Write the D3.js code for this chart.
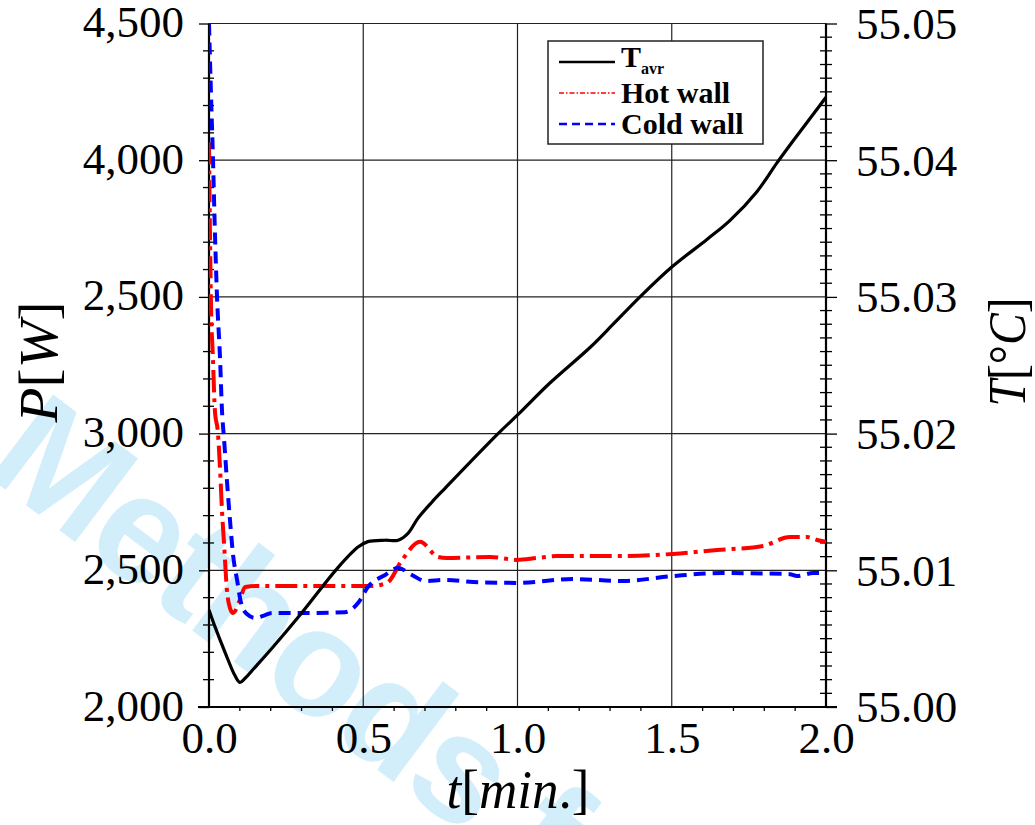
<!DOCTYPE html>
<html><head><meta charset="utf-8">
<script src="https://cdn.jsdelivr.net/npm/d3@7"></script>
<style>body{margin:0;background:#fff}</style>
</head><body><svg id="c" width="1035" height="825"></svg>
<script>
// ---- data ----
const timeAvr = [0, 0.019, 0.052, 0.084, 0.100, 0.117, 0.149, 0.204, 0.301, 0.418, 0.483, 0.515, 0.571, 0.613, 0.645, 0.677, 0.723, 0.765, 0.937, 1.002, 1.105, 1.235, 1.310, 1.397, 1.501, 1.614, 1.689, 1.776, 1.841, 1.893, 2.0];
const tempAvr = [55.0071, 55.0059, 55.0040, 55.0023, 55.0018, 55.0021, 55.0029, 55.0043, 55.0069, 55.0102, 55.0117, 55.0121, 55.0122, 55.0122, 55.0127, 55.0138, 55.0150, 55.0160, 55.0200, 55.0214, 55.0237, 55.0263, 55.0280, 55.0300, 55.0322, 55.0342, 55.0356, 55.0377, 55.0398, 55.0414, 55.0446];

const timeHot = [0, 0.003, 0.006, 0.013, 0.019, 0.029, 0.036, 0.042, 0.049, 0.058, 0.068, 0.078, 0.100, 0.117, 0.165, 0.295, 0.528, 0.577, 0.626, 0.684, 0.742, 0.771, 0.911, 0.998, 1.063, 1.128, 1.342, 1.504, 1.647, 1.796, 1.883, 1.939, 1.971, 2.0];
const powerHot = [4066, 3745, 3500, 3269, 3086, 3002, 2867, 2721, 2593, 2428, 2362, 2344, 2391, 2439, 2443, 2443, 2443, 2454, 2538, 2604, 2549, 2545, 2549, 2538, 2545, 2552, 2552, 2560, 2574, 2589, 2622, 2622, 2611, 2604];

const timeCold = [0, 0.006, 0.013, 0.019, 0.026, 0.036, 0.042, 0.049, 0.058, 0.068, 0.078, 0.091, 0.104, 0.123, 0.149, 0.182, 0.204, 0.311, 0.441, 0.483, 0.515, 0.571, 0.613, 0.658, 0.700, 0.765, 0.856, 0.998, 1.180, 1.342, 1.504, 1.666, 1.883, 1.906, 1.958, 2.0];
const powerCold = [4500, 4257, 4001, 3745, 3500, 3269, 3086, 2977, 2830, 2684, 2556, 2465, 2380, 2340, 2326, 2336, 2344, 2344, 2347, 2380, 2439, 2483, 2508, 2483, 2461, 2465, 2457, 2454, 2468, 2461, 2479, 2490, 2486, 2479, 2490, 2490];

const xTickValues = [0, 0.5, 1.0, 1.5, 2.0];
const xTickLabels = ["0.0", "0.5", "1.0", "1.5", "2.0"];
const pTickValues = [2000, 2500, 3000, 3500, 4000, 4500];
const pTickLabels = ["2,000", "2,500", "3,000", "2,500", "4,000", "4,500"];
const tTickValues = [55.00, 55.01, 55.02, 55.03, 55.04, 55.05];
const tTickLabels = ["55.00", "55.01", "55.02", "55.03", "55.04", "55.05"];
const seriesNames = ["T", "Hot wall", "Cold wall"];
const watermarkText = "Methods for";

// ---- layout ----
const svg = d3.select("#c");
const L = 209, R = 826, T = 23.5, B = 707;
const serif = "'Liberation Serif','Times New Roman',serif";
const x = d3.scaleLinear().domain([0, 2]).range([L, R]);
const yP = d3.scaleLinear().domain([2000, 4500]).range([B, T]);
const yT = d3.scaleLinear().domain([55.00, 55.05]).range([B, T]);

svg.append("rect").attr("width", 1035).attr("height", 825).attr("fill", "#fff");

// watermark (clipped to the page)
svg.append("clipPath").attr("id", "page").append("rect").attr("width", 1035).attr("height", 825);
svg.append("g").attr("clip-path", "url(#page)").append("text")
  .attr("transform", "translate(-18,472) rotate(37)")
  .attr("font-family", "'Liberation Sans',Arial,sans-serif")
  .attr("font-weight", "bold").attr("font-size", 152).attr("letter-spacing", -3)
  .attr("fill", "#d3eefb").text(watermarkText);

// grid
const grid = svg.append("g").attr("stroke", "#222").attr("stroke-width", 1.2);
grid.selectAll(".gh").data(pTickValues).join("line")
  .attr("x1", L).attr("x2", R).attr("y1", d => yP(d)).attr("y2", d => yP(d));
grid.selectAll(".gv").data(xTickValues.slice(1, -1)).join("line")
  .attr("y1", T).attr("y2", B).attr("x1", d => x(d)).attr("x2", d => x(d));

// minor ticks
const minorP = d3.range(2000, 4501, 100).filter(v => v % 500 !== 0);
const minorT = d3.range(0, 51).map(i => 55 + i * 0.001).filter((v, i) => i % 10 !== 0);
const minorX = d3.range(0, 21).map(i => i * 0.1).filter((v, i) => i % 5 !== 0);
const mt = svg.append("g").attr("stroke", "#000").attr("stroke-width", 1.3);
mt.selectAll(".ml").data(minorP).join("line")
  .attr("x1", L - 6).attr("x2", L + 5).attr("y1", d => yP(d)).attr("y2", d => yP(d));
mt.selectAll(".mr").data(minorT).join("line")
  .attr("x1", R - 6).attr("x2", R + 6).attr("y1", d => yT(d)).attr("y2", d => yT(d));
mt.selectAll(".mb").data(minorX).join("line")
  .attr("y1", B).attr("y2", B + 4).attr("x1", d => x(d)).attr("x2", d => x(d));

// axes
const axL = svg.append("g").attr("transform", `translate(${L},0)`)
  .call(d3.axisLeft(yP).tickValues(pTickValues).tickFormat((d, i) => pTickLabels[i]).tickSize(10).tickSizeOuter(0).tickPadding(15));
const axR = svg.append("g").attr("transform", `translate(${R},0)`)
  .call(d3.axisRight(yT).tickValues(tTickValues).tickFormat((d, i) => tTickLabels[i]).tickSize(11).tickSizeOuter(0).tickPadding(19));
const axB = svg.append("g").attr("transform", `translate(0,${B})`)
  .call(d3.axisBottom(x).tickValues(xTickValues).tickFormat((d, i) => xTickLabels[i]).tickSize(0).tickSizeOuter(0).tickPadding(14));
[axL, axR, axB].forEach(a => {
  a.select(".domain").remove();
  a.selectAll(".tick line").attr("stroke", "#000").attr("stroke-width", 1.3);
  a.selectAll("text").attr("font-family", serif).attr("font-size", 45).attr("fill", "#000");
});
axL.selectAll("text").attr("dy", "0.29em");
axR.selectAll("text").attr("dy", "0.33em");

const frame = svg.append("g").attr("stroke", "#000").attr("stroke-width", 2.2);
frame.append("line").attr("x1", L).attr("x2", L).attr("y1", T).attr("y2", B);
frame.append("line").attr("x1", R).attr("x2", R).attr("y1", T).attr("y2", B);
frame.append("line").attr("x1", L - 11).attr("x2", R + 11).attr("y1", B).attr("y2", B);

// series
svg.append("clipPath").attr("id", "clip").append("rect")
  .attr("x", L).attr("y", T - 2).attr("width", R - L).attr("height", B - T + 2);
const plot = svg.append("g").attr("clip-path", "url(#clip)");
const lineP = d3.line().x(d => x(d[0])).y(d => yP(d[1])).curve(d3.curveMonotoneX);
const lineT = d3.line().x(d => x(d[0])).y(d => yT(d[1])).curve(d3.curveCatmullRom.alpha(0.5));
plot.append("path").datum(d3.zip(timeHot, powerHot)).attr("d", lineP)
  .attr("fill", "none").attr("stroke", "#ff0000").attr("stroke-width", 4)
  .attr("stroke-dasharray", "22,6,4,6");
plot.append("path").datum(d3.zip(timeCold, powerCold)).attr("d", lineP)
  .attr("fill", "none").attr("stroke", "#0000ff").attr("stroke-width", 4)
  .attr("stroke-dasharray", "12,7");
plot.append("path").datum(d3.zip(timeAvr, tempAvr)).attr("d", lineT)
  .attr("fill", "none").attr("stroke", "#000").attr("stroke-width", 3.2);

// legend
const lg = svg.append("g");
lg.append("rect").attr("x", 548).attr("y", 41).attr("width", 215).attr("height", 103)
  .attr("fill", "#fff").attr("stroke", "#222").attr("stroke-width", 1.5);
const legStyles = [
  {c: "#000", w: 2.6, dash: null, y: 62},
  {c: "#ff0000", w: 1.6, dash: "5,2,1.5,2", y: 93},
  {c: "#0000ff", w: 2.6, dash: "8,5", y: 124}
];
legStyles.forEach((s, i) => {
  lg.append("line").attr("x1", 559).attr("x2", 615).attr("y1", s.y).attr("y2", s.y)
    .attr("stroke", s.c).attr("stroke-width", s.w).attr("stroke-dasharray", s.dash);
  const t = lg.append("text").attr("x", 621).attr("y", s.y + (i === 0 ? 5 : 10))
    .attr("font-family", serif).attr("font-weight", "bold").attr("font-size", 30).attr("fill", "#000");
  t.append("tspan").text(seriesNames[i]);
  if (i === 0) t.append("tspan").attr("font-size", 16).attr("dy", 7).text("avr");
});

// axis titles
function mathTitle(g, parts) {
  parts.forEach(p => g.append("tspan").attr("font-style", p[1] ? "italic" : "normal").text(p[0]));
}
const xt = svg.append("text").attr("x", 518).attr("y", 808).attr("text-anchor", "middle")
  .attr("font-family", serif).attr("font-size", 54).attr("textLength", 143).attr("lengthAdjust", "spacingAndGlyphs");
mathTitle(xt, [["t", 1], ["[", 0], ["min", 1], [".]", 0]]);
const yl = svg.append("text").attr("transform", "translate(57,362) rotate(-90)").attr("text-anchor", "middle")
  .attr("font-family", serif).attr("font-size", 54).attr("textLength", 121).attr("lengthAdjust", "spacingAndGlyphs");
mathTitle(yl, [["P", 1], ["[", 0], ["W", 1], ["]", 0]]);
const yr = svg.append("text").attr("transform", "translate(1025,352) rotate(-90)").attr("text-anchor", "middle")
  .attr("font-family", serif).attr("font-size", 52).attr("textLength", 109).attr("lengthAdjust", "spacingAndGlyphs");
mathTitle(yr, [["T", 1], ["[°", 0], ["C", 1], ["]", 0]]);
</script></body></html>
